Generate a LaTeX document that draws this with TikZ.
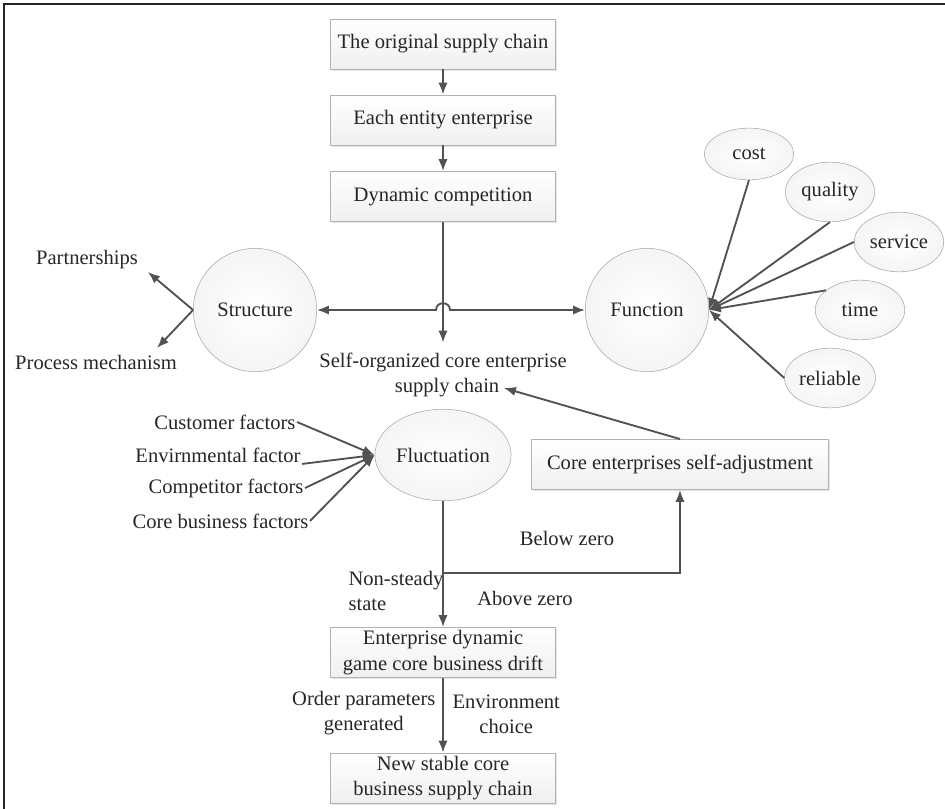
\documentclass[tikz,border=0pt]{standalone}
\usepackage{fontspec}
\setmainfont{Liberation Serif}
\usepackage{tikz}
\usetikzlibrary{arrows.meta}
\usetikzlibrary{calc}
\usetikzlibrary{positioning}
\usetikzlibrary{shapes.geometric}
\usetikzlibrary{shadows}

\begin{document}
\begin{tikzpicture}
	[
	x=0.0265cm, y=-0.0265cm,
	every node/.style={font=\fontsize{15.5}{19}\selectfont, text=black!85},
	> = {Latex[length=9pt,width=7pt]},
	link/.style = {draw=black!68, line width=1.4pt},
	box/.style = {draw=black!30, top color=white, bottom color=black!6, minimum width=170pt, minimum height=38pt, inner sep=1pt, align=center, drop shadow={shadow xshift=1pt, shadow yshift=-1pt, opacity=0.2}},
	ball/.style = {circle, draw=black!35, inner color=white, outer color=black!4, minimum size=93pt},
	oval/.style = {ellipse, draw=black!35, inner color=white, outer color=black!4, minimum width=67.5pt, minimum height=45pt, inner sep=1pt}
	]
	\useasboundingbox (0,0) rectangle (945,809);
	\draw[line width=1.2pt, black!85] (4,809) -- (4,4) -- (945,4);

	% chain down the middle
	\node[box] (orig) at (443,44) {The original supply chain};
	\node[box] (entity) at (443,120) {Each entity enterprise};
	\node[box] (compet) at (443,196.5) {Dynamic competition};
	\node (selforg) at (443,362) {Self-organized core enterprise};
	\node (supply) at (447,388) {supply chain};

	\node[ball] (struct) at (255,310) {Structure};
	\node[ball] (func) at (647,310) {Function};

	\node (partner) at (87,260) {Partnerships};
	\node (process) at (96,362) {Process mechanism};
	\coordinate (ptip) at (148,272);
	\coordinate (mtip) at (157,348);

	\node[oval, minimum height=39pt] (cost) at (749,154) {cost};
	\node[oval] (quality) at (830,192) {quality};
	\node[oval] (service) at (899,242) {service};
	\node[oval] (time) at (860,310) {time};
	\node[oval] (reliable) at (830,378) {reliable};

	% fluctuation part
	\node[oval, minimum width=100pt, minimum height=69pt] (fluct) at (443,455) {Fluctuation};
	\node[anchor=east, inner sep=1pt] (custom) at (297,422) {Customer factors};
	\node[anchor=east, inner sep=1pt] (envfac) at (302,455) {Envirnmental factor};
	\node[anchor=east, inner sep=1pt] (rival) at (305,488) {Competitor factors};
	\node[anchor=east, inner sep=1pt] (corefac) at (310,521) {Core business factors};

	\node[box, minimum width=224pt] (adjust) at (680,464.5) {Core enterprises self-adjustment};
	\node[box] (drift) at (443,652.5) {Enterprise dynamic\\game core business drift};
	\node[box] (newchain) at (443,778) {New stable core\\business supply chain};

	\node (below) at (567,538) {Below zero};
	\node (above) at (525,598) {Above zero};
	\node[anchor=west, align=left, inner sep=1pt] (unsteady) at (347,591) {Non-steady\\state};
	\node[anchor=east, align=center, inner sep=1pt] (order) at (437,713) {Order parameters\\generated};
	\node[anchor=west, align=center, inner sep=1pt] (envir) at (451,714) {Environment\\choice};

	\coordinate (hop) at (443,310);
	\coordinate (fork) at (443,573);
	\coordinate (turn) at (680,573);

	% connectors
	\draw[link,->] (orig) -- (entity);
	\draw[link,->] (entity) -- (compet);
	\draw[link,->] (compet) -- ([yshift=4pt]selforg.north);
	\draw[link,<->] (struct) -- ($(hop)+(-7,0)$) .. controls ($(hop)+(-7,-9)$) and ($(hop)+(7,-9)$) .. ($(hop)+(7,0)$) -- (func);
	\draw[link,->] (struct.west) -- (ptip);
	\draw[link,->] (struct.west) -- (mtip);

	\draw[link,->] (cost.south) -- (func.east);
	\draw[link,->] (quality.south) -- (func.east);
	\draw[link,->] (service.west) -- (func.east);
	\draw[link,->] (time.150) -- (func.east);
	\draw[link,->] (reliable.west) -- (func.east);

	\draw[link,->] (custom.east) -- (fluct.west);
	\draw[link,->] (envfac.south east) -- (fluct.west);
	\draw[link,->] (rival.east) -- (fluct.west);
	\draw[link,->] (corefac.east) -- (fluct.west);

	\draw[link,->] (fluct.south) -- (drift.north);
	\draw[link,->] (fork) -- (turn) -- (adjust);
	\draw[link,->] (adjust.north) -- (supply.east);
	\draw[link,->] (drift) -- (newchain);
\end{tikzpicture}
\end{document}
